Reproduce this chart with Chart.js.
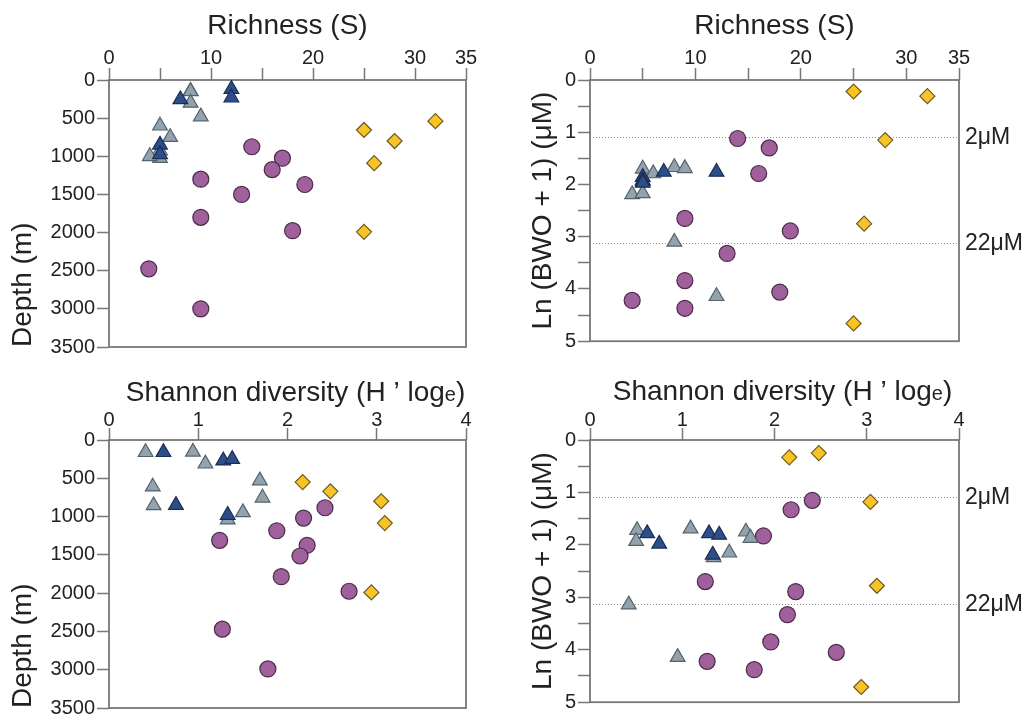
<!DOCTYPE html>
<html>
<head>
<meta charset="utf-8">
<script src="https://cdn.jsdelivr.net/npm/chart.js@4"></script>
<style>
  body { margin: 0; background: #fff; }
  #wrap { position: relative; width: 1031px; height: 722px; }
  canvas { position: absolute; }
</style>
</head>
<body>
<div id="wrap">
  <canvas id="c1" width="515" height="361" style="left:0;top:0"></canvas>
  <canvas id="c2" width="516" height="361" style="left:515px;top:0"></canvas>
  <canvas id="c3" width="515" height="361" style="left:0;top:361px"></canvas>
  <canvas id="c4" width="516" height="361" style="left:515px;top:361px"></canvas>
</div>
<script>
// axis ticks / texts
const richTicks = { max: 35, step: 5 };
const shanTicks = { max: 4, step: 1 };
const depthTicks = { max: 3500, step: 500 };
const bwoTicks = { max: 5, step: 0.5 };
const bwoLines = [2, 22];   // µM, drawn at ln(c + 1)

// richness vs depth  [S, m]
const richDepthGrey = [[8,145],[8,150],[8,300],[9,480],[5,600],[6,750],[5,925],[5,1025],[4,1000]];
const richDepthBlue = [[12,120],[12,230],[7,255],[5,850],[5,975]];
const richDepthPurple = [[14,875],[17,1025],[16,1175],[9,1300],[19.2,1370],[13,1500],[9,1800],[18,1975],[3.9,2475],[9,3000]];
const richDepthYellow = [[32,540],[25,655],[28,800],[26,1090],[25,1990]];

// richness vs ln(BWO + 1)
const richBwoGrey = [[5,1.70],[6,1.79],[8,1.67],[9,1.69],[4,2.19],[5,2.17],[5,1.92],[8,3.10],[12,4.14]];
const richBwoBlue = [[7,1.76],[12,1.76],[5,1.86],[5,1.93],[5,1.97]];
const richBwoPurple = [[14,1.12],[17,1.30],[16,1.79],[9,2.65],[19,2.89],[13,3.32],[9,3.84],[18,4.06],[4,4.22],[9,4.37]];
const richBwoYellow = [[25,0.22],[32,0.31],[28,1.15],[26,2.75],[25,4.66]];

// shannon vs depth
const shanDepthGrey = [[0.41,160],[0.94,155],[1.08,310],[0.49,610],[1.69,530],[0.50,855],[1.72,755],[1.50,945],[1.33,1040]];
const shanDepthBlue = [[0.61,160],[1.28,270],[1.38,250],[0.75,850],[1.33,980]];
const shanDepthPurple = [[2.42,885],[2.18,1020],[1.88,1185],[1.24,1310],[2.22,1375],[2.14,1515],[1.93,1785],[2.69,1975],[1.27,2470],[1.78,2990]];
const shanDepthYellow = [[2.17,550],[2.48,670],[3.05,800],[3.09,1085],[2.94,1990]];

// shannon vs ln(BWO + 1)
const shanBwoGrey = [[0.51,1.72],[0.50,1.93],[1.09,1.69],[1.69,1.75],[1.74,1.87],[1.51,2.15],[1.34,2.24],[0.42,3.14],[0.95,4.14]];
const shanBwoBlue = [[0.62,1.78],[0.75,1.98],[1.29,1.78],[1.40,1.81],[1.33,2.19]];
const shanBwoPurple = [[2.41,1.15],[2.18,1.33],[1.88,1.83],[1.25,2.70],[2.23,2.89],[2.14,3.33],[1.96,3.85],[2.67,4.05],[1.27,4.22],[1.78,4.38]];
const shanBwoYellow = [[2.16,0.33],[2.48,0.25],[3.04,1.18],[3.11,2.78],[2.94,4.71]];

const FONT = '"Liberation Sans", Arial, sans-serif';
const INK = '#222';
const AXIS = '#777';

// marker looks: grey triangle, blue triangle, purple circle, yellow diamond
const looks = {
  grey:   { pointStyle: 'triangle', pointRadius: 8.5, backgroundColor: '#93a3ad', borderColor: '#55626b' },
  blue:   { pointStyle: 'triangle', pointRadius: 8.5, backgroundColor: '#2c4f8c', borderColor: '#1b2d52' },
  purple: { pointStyle: 'circle',   pointRadius: 8,   backgroundColor: '#a0609c', borderColor: '#4a2b48' },
  yellow: { pointStyle: 'rectRot',  pointRadius: 7.5, backgroundColor: '#f8c325', borderColor: '#6e5a22' }
};

function ds(pairs, look) {
  return Object.assign({
    data: pairs.map(p => ({ x: p[0], y: p[1] })),
    borderWidth: 1.2,
    pointHoverRadius: looks[look].pointRadius,
    showLine: false
  }, looks[look]);
}

// frame round the plot area
const framePlugin = {
  id: 'frame',
  beforeDatasetsDraw(chart) {
    const { ctx, chartArea: a } = chart;
    ctx.save();
    ctx.strokeStyle = AXIS;
    ctx.lineWidth = 1.8;
    ctx.strokeRect(a.left, a.top, a.right - a.left, a.bottom - a.top);
    ctx.restore();
  }
};

// titles: top one in pieces (small "e" of log), side one rotated
const titles = {
  id: 'titles',
  afterDraw(chart, args, o) {
    const { ctx, chartArea: a } = chart;
    ctx.save();
    ctx.fillStyle = INK;
    ctx.textBaseline = 'alphabetic';
    ctx.textAlign = 'left';
    const w = o.parts.map(p => { ctx.font = p.size + 'px ' + FONT; return ctx.measureText(p.text).width; });
    let x = (a.left + a.right) / 2 - w.reduce((s, v) => s + v, 0) / 2 + (o.shift || 0);
    o.parts.forEach((p, i) => {
      ctx.font = p.size + 'px ' + FONT;
      ctx.fillText(p.text, x, o.baseline);
      x += w[i];
    });
    // side title
    const s = o.side;
    ctx.font = s.size + 'px ' + FONT;
    ctx.translate(s.x, s.anchor === 'start' ? a.bottom : (a.top + a.bottom) / 2);
    ctx.rotate(-Math.PI / 2);
    ctx.textAlign = s.anchor === 'start' ? 'left' : 'center';
    ctx.fillText(s.text, 0, 0);
    ctx.restore();
  }
};

const isInt = v => Math.abs(v - Math.round(v)) < 1e-6;

function panel(id, sets, xt, xLabel, yt, yLabel, bwo, title, box) {
  const scales = {
    x: {
      type: 'linear', position: 'top', min: 0, max: xt.max,
      ticks: { stepSize: xt.step, callback: xLabel, autoSkip: false, maxRotation: 0,
               font: { family: FONT, size: 20 }, color: INK, padding: box.xpad },
      grid: { drawOnChartArea: false, tickLength: 12, tickColor: AXIS, tickWidth: 1.5 },
      border: { display: false },
      afterFit: s => { s.height = box.top; }
    },
    y: {
      type: 'linear', position: 'left', reverse: true, min: 0, max: yt.max,
      ticks: { stepSize: yt.step, callback: yLabel, autoSkip: false,
               font: { family: FONT, size: 20 }, color: INK, padding: 2 },
      grid: { drawOnChartArea: false, tickLength: 12, tickColor: AXIS, tickWidth: 1.5 },
      border: { display: false },
      afterFit: s => { s.width = box.left; }
    }
  };
  if (bwo) {
    scales.y2 = {
      type: 'linear', position: 'right', reverse: true, min: 0, max: yt.max,
      afterBuildTicks: s => { s.ticks = bwoLines.map(c => ({ value: Math.log(c + 1) })); },
      ticks: { callback: (v, i) => bwoLines[i] + 'μM', autoSkip: false,
               font: { family: FONT, size: 23 }, color: INK, padding: 6 },
      grid: { drawOnChartArea: true, drawTicks: false, color: '#8a8a8a', lineWidth: 1 },
      border: { display: false, dash: [1, 2] },
      afterFit: s => { s.width = box.right; }
    };
  }
  new Chart(document.getElementById(id), {
    type: 'scatter',
    data: { datasets: sets },
    options: {
      responsive: false,
      animation: false,
      devicePixelRatio: 1,
      layout: { padding: { left: 0, top: 0, right: bwo ? 0 : box.right, bottom: box.bottom } },
      plugins: { legend: { display: false }, tooltip: { enabled: false }, titles: title },
      scales: scales
    },
    plugins: [framePlugin, titles]
  });
}

const richLabel = v => (v % 10 === 0 || v === 35) ? v : '';
const shanLabel = v => v;
const depthLabel = v => v;
const bwoLabel = v => isInt(v) ? Math.round(v) : '';

const richTitle = [{ text: 'Richness (S)', size: 28 }];
const shanTitle = [{ text: 'Shannon diversity (H ’ log', size: 28 }, { text: 'e', size: 20 }, { text: ')', size: 28 }];
const depthTitle = { text: 'Depth (m)', anchor: 'start', size: 28, x: 31 };
const bwoTitle = { text: 'Ln (BWO + 1) (μM)', anchor: 'center', size: 28, x: 36 };

panel('c1',
  [ds(richDepthBlue, 'blue'), ds(richDepthGrey, 'grey'), ds(richDepthPurple, 'purple'), ds(richDepthYellow, 'yellow')],
  richTicks, richLabel, depthTicks, depthLabel, false,
  { parts: richTitle, baseline: 34, side: depthTitle },
  { left: 109, top: 80, right: 49, bottom: 11, xpad: -2 });

panel('c2',
  [ds(richBwoBlue, 'blue'), ds(richBwoGrey, 'grey'), ds(richBwoPurple, 'purple'), ds(richBwoYellow, 'yellow')],
  richTicks, richLabel, bwoTicks, bwoLabel, true,
  { parts: richTitle, baseline: 34, side: bwoTitle },
  { left: 75, top: 80, right: 72, bottom: 11, xpad: -2 });

panel('c3',
  [ds(shanDepthBlue, 'blue'), ds(shanDepthGrey, 'grey'), ds(shanDepthPurple, 'purple'), ds(shanDepthYellow, 'yellow')],
  shanTicks, shanLabel, depthTicks, depthLabel, false,
  { parts: shanTitle, baseline: 40, shift: 8, side: depthTitle },
  { left: 109, top: 79, right: 49, bottom: 12, xpad: -4 });

panel('c4',
  [ds(shanBwoBlue, 'blue'), ds(shanBwoGrey, 'grey'), ds(shanBwoPurple, 'purple'), ds(shanBwoYellow, 'yellow')],
  shanTicks, shanLabel, bwoTicks, bwoLabel, true,
  { parts: shanTitle, baseline: 39, shift: 8, side: bwoTitle },
  { left: 75, top: 79, right: 72, bottom: 12, xpad: -4 });
</script>
</body>
</html>
